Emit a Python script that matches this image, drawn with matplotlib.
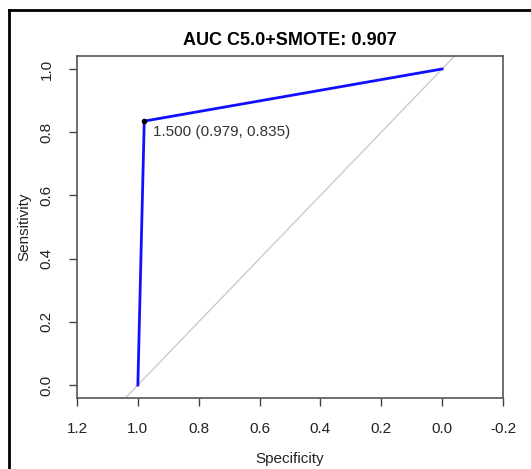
import matplotlib
matplotlib.use("Agg")
import matplotlib.pyplot as plt
from matplotlib.lines import Line2D

plt.rcParams["font.family"] = ["Liberation Sans", "DejaVu Sans"]

# ROC curve points
specificity = [1.0, 0.979, 0.0]
sensitivity = [0.0, 0.835, 1.0]
best_spec, best_sens, best_thr = 0.979, 0.835, 1.500
auc_value = 0.907
x_ticks = [1.2, 1.0, 0.8, 0.6, 0.4, 0.2, 0.0, -0.2]
y_ticks = [0.0, 0.2, 0.4, 0.6, 0.8, 1.0]

fig = plt.figure(figsize=(5.31, 4.69), dpi=100)
ax = fig.add_axes([77 / 531, 71 / 469, 426 / 531, 342 / 469])

# chance diagonal
ax.plot([1.2, -0.2], [-0.2, 1.2], color="#cccccc", lw=1, zorder=1)
ax.plot(specificity, sensitivity, color="#1010ff", lw=2, zorder=2)
ax.plot([best_spec], [best_sens], "o", color="black", ms=3, zorder=3)
ax.annotate(f"{best_thr:.3f} ({best_spec:.3f}, {best_sens:.3f})",
            (best_spec, best_sens), xytext=(6, -8), textcoords="offset points",
            ha="left", va="center", fontsize=11, color="#333333")

ax.set_xlim(1.2, -0.2)
ax.set_ylim(-0.041, 1.041)
ax.set_xticks(x_ticks)
ax.set_xticklabels([f"{v:.1f}" for v in x_ticks])
ax.set_yticks(y_ticks)
ax.set_yticklabels([f"{v:.1f}" for v in y_ticks], rotation=90, va="center")
ax.tick_params(axis="both", length=6, width=1, color="#444444",
               labelsize=11, labelcolor="#222222")
ax.tick_params(axis="x", pad=11)
ax.tick_params(axis="y", pad=11)
for s in ax.spines.values():
    s.set_color("#555555")
    s.set_linewidth(1.2)

ax.set_xlabel("Specificity", fontsize=11, color="#222222", labelpad=12)
ax.set_ylabel("Sensitivity", fontsize=11, color="#222222", labelpad=6)
ax.set_title(f"AUC C5.0+SMOTE: {auc_value:.3f}", fontsize=13, fontweight="bold", pad=8)

# outer frame of the screenshot (left and top edges)
fig.add_artist(Line2D([9 / 531, 9 / 531], [0, 1 - 10 / 469], color="black", lw=2,
                      transform=fig.transFigure))
fig.add_artist(Line2D([9 / 531, 1], [1 - 10 / 469, 1 - 10 / 469], color="black", lw=2,
                      transform=fig.transFigure))

fig.savefig("out.png", dpi=100)
plt.close(fig)
